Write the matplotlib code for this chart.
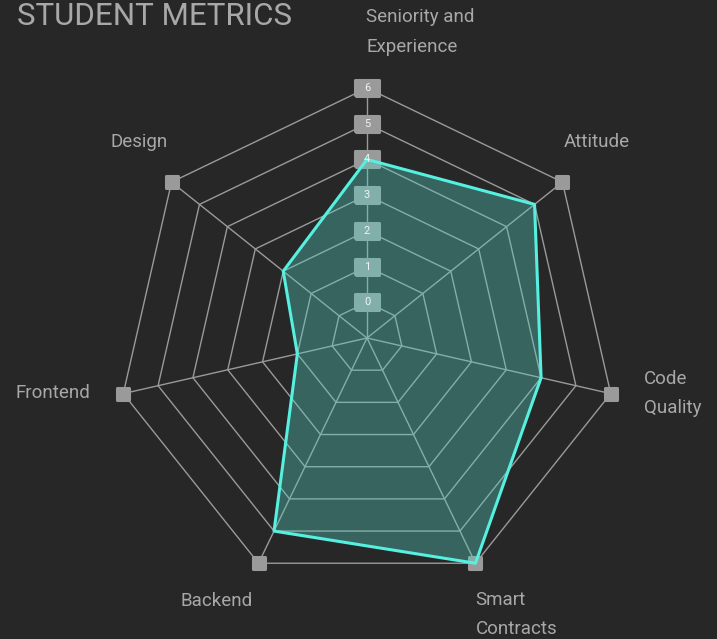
import numpy as np
import matplotlib
matplotlib.use("Agg")
import matplotlib.pyplot as plt
from matplotlib.markers import MarkerStyle

categories = ["Seniority and\nExperience", "Attitude", "Code\nQuality", "Smart\nContracts",
              "Backend", "Frontend", "Design"]
values = [4, 5, 4, 6, 5, 1, 2]
levels = [0, 1, 2, 3, 4, 5, 6]
r_min, r_max = -1, 6

BG = "#272727"
GRID = "#9a9a9a"
TXT = "#a8a8a8"
LINE = "#55f0e0"
FILL = "#57d7c9"

plt.rcParams['font.family'] = ['Roboto', 'DejaVu Sans']

W, H, DPI = 717, 639, 100
fig = plt.figure(figsize=(W / DPI, H / DPI), dpi=DPI, facecolor=BG)
cx, cy, R = 367, 338, 250
ax = fig.add_axes([(cx - R) / W, (H - cy - R) / H, 2 * R / W, 2 * R / H], projection='polar')
ax.set_facecolor("none")
ax.set_theta_zero_location('N')
ax.set_theta_direction(-1)
ax.set_ylim(r_min, r_max)
ax.grid(False)
ax.spines['polar'].set_visible(False)
ax.set_xticks([])
ax.set_yticks([])

n = len(categories)
angles = np.arange(n) * 2 * np.pi / n
closed = np.append(angles, angles[0])

# rings
for lv in levels:
    ax.plot(closed, [lv] * (n + 1), color=GRID, lw=1, zorder=1, clip_on=False)
# spokes
for a in angles:
    ax.plot([a, a], [r_min, r_max], color=GRID, lw=1, zorder=1, clip_on=False)

# vertex markers
sq = MarkerStyle('s', joinstyle='round')
ax.plot(angles, [r_max] * n, ls='none', marker=sq, ms=8.0, mfc=GRID, mec=GRID, mew=2.2,
        zorder=2, clip_on=False)

# tick label boxes
rect = MarkerStyle([(-1.5, -1), (1.5, -1), (1.5, 1), (-1.5, 1), (-1.5, -1)], joinstyle='round')
ax.plot([0] * len(levels), levels, ls='none', marker=rect, ms=17.3, mfc=GRID, mec=GRID, mew=2.2,
        zorder=2, clip_on=False)
for lv in levels:
    ax.text(0, lv, str(lv), ha='center', va='center', fontsize=8, color='#f2f2f2', zorder=5,
            clip_on=False)

# series
vals_closed = values + values[:1]
ax.fill(closed, vals_closed, color=FILL, alpha=0.35, lw=0, zorder=3, clip_on=False)
ax.plot(closed, vals_closed, color=LINE, lw=2.2, zorder=4, clip_on=False)

# category labels
label_style = [  # (ha, dx px, dy px)
    ('left', -1, 56),
    ('left', 1, 40),
    ('left', 33, 0),
    ('left', 0, -51),
    ('right', -6, -38),
    ('right', -33, 1),
    ('right', -4, 40),
]
for a, name, (ha, dx, dy) in zip(angles, categories, label_style):
    ax.annotate(name, xy=(a, r_max), xytext=(dx, dy), textcoords='offset pixels',
                ha=ha, va='center', fontsize=13.5, color=TXT, linespacing=1.8,
                annotation_clip=False)

fig.text(17 / W, 1 - 2 / H, "STUDENT METRICS", ha='left', va='top', fontsize=22.5,
         color=TXT)

fig.savefig("out.png", dpi=DPI, facecolor=BG)
